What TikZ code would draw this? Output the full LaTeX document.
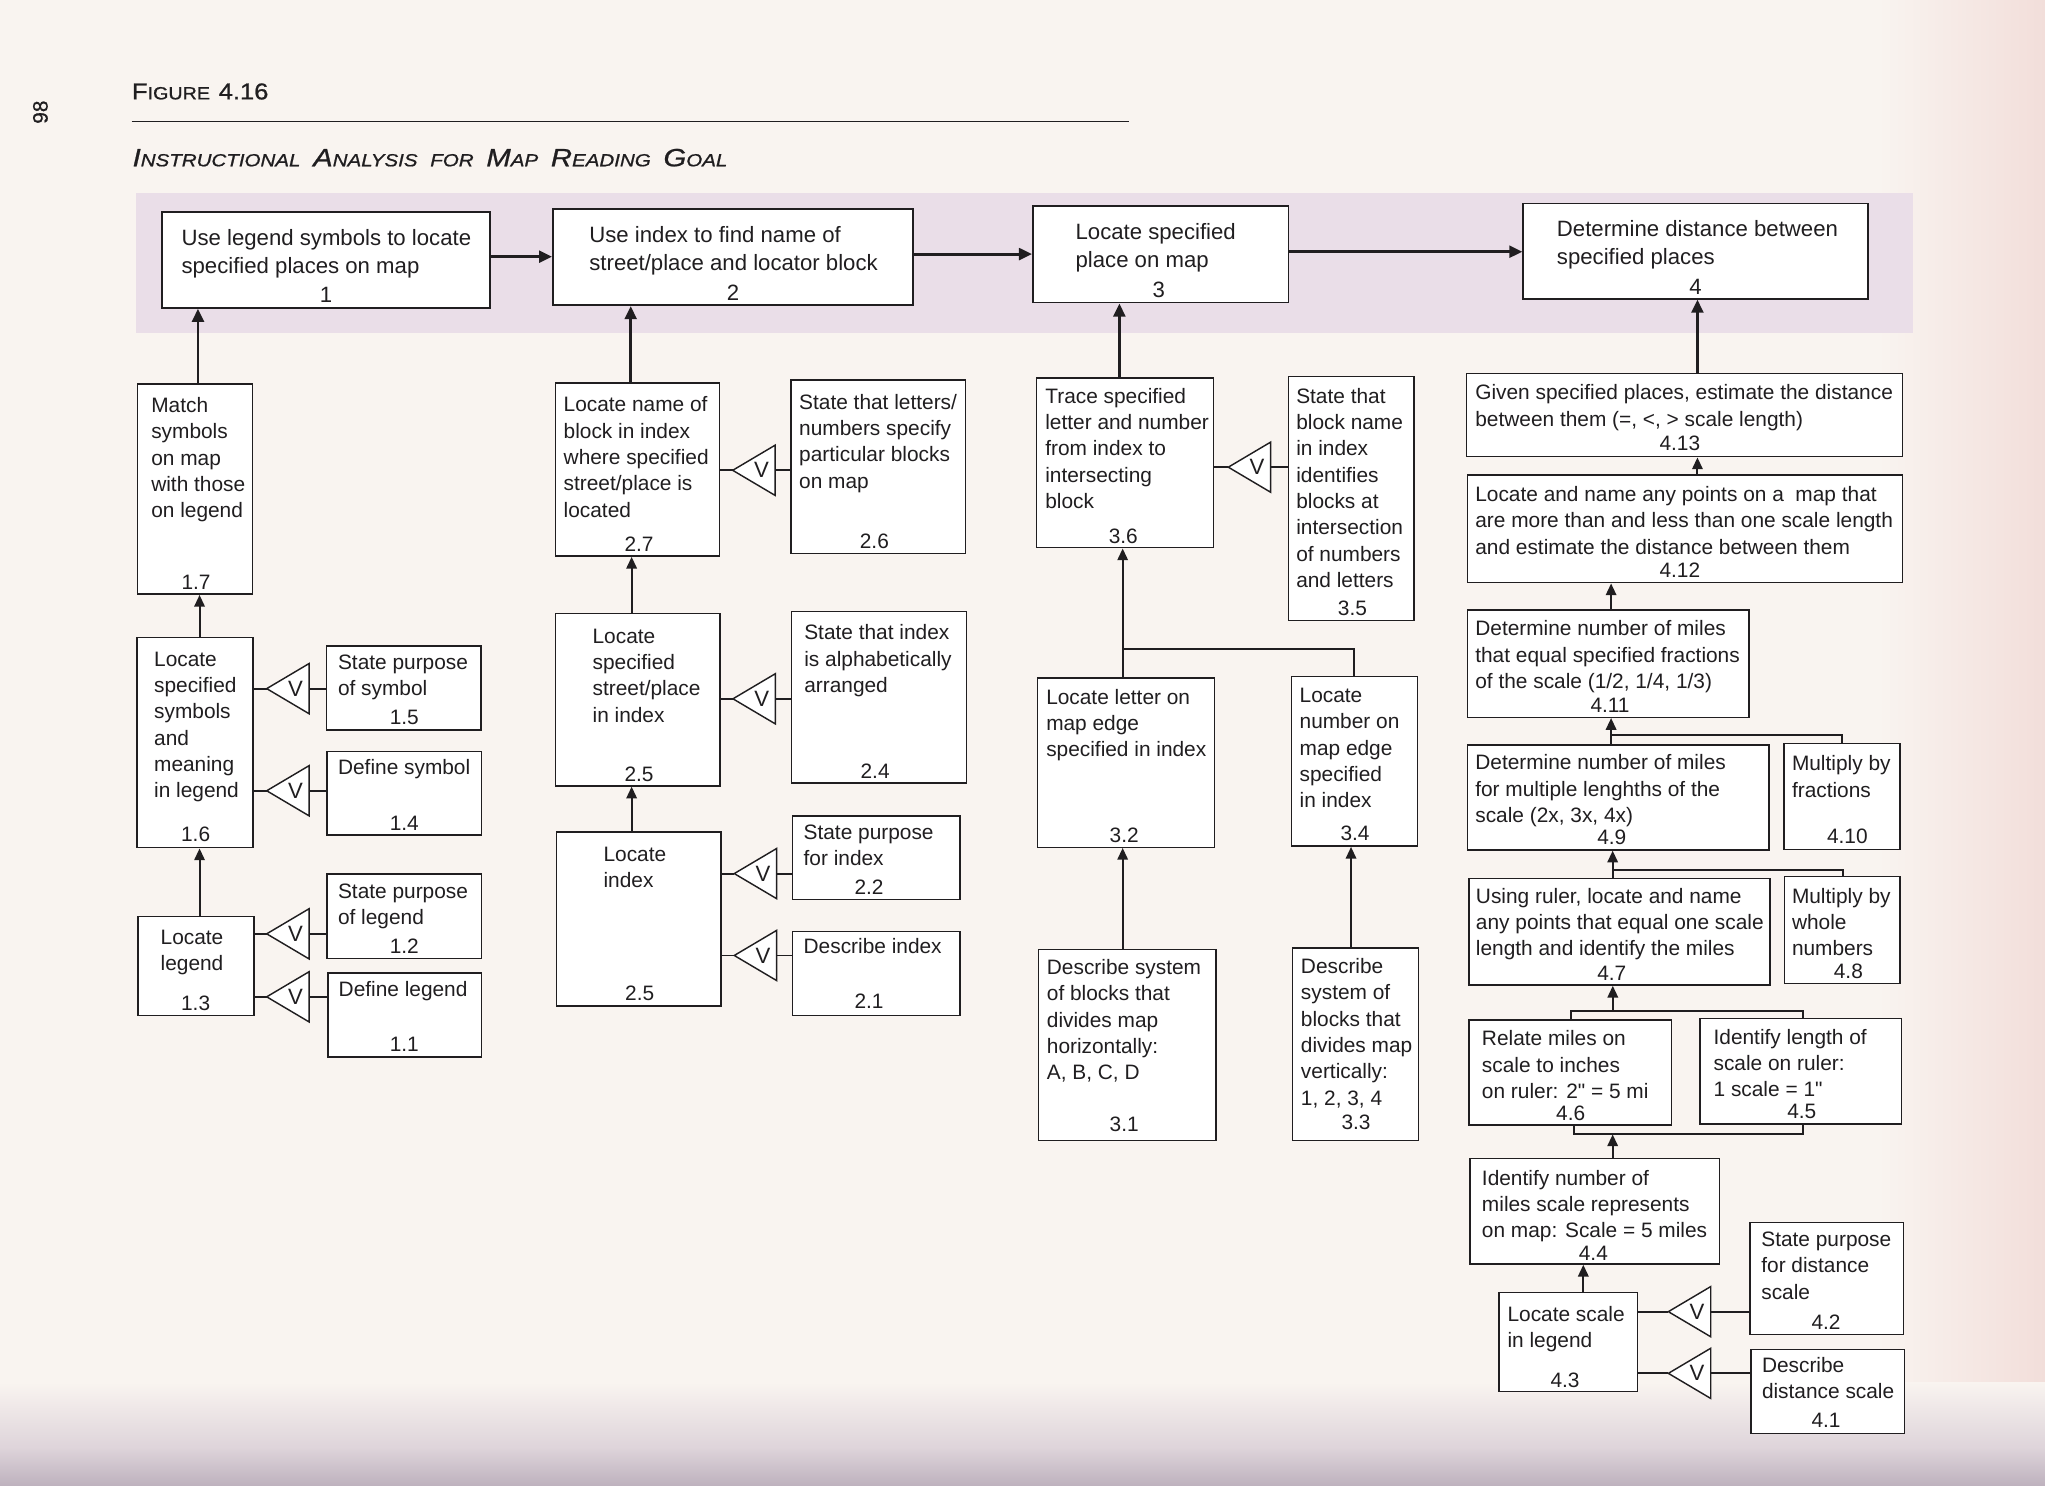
\documentclass[tikz,border=0pt]{standalone}
\usepackage{fontspec}
\usepackage{graphicx}
\newfontfamily\hv{Liberation Sans}
\newfontfamily\hd[FakeBold=0.8]{Liberation Sans}
\usetikzlibrary{arrows.meta,fit,calc}

\definecolor{paper}{RGB}{249,244,240}
\definecolor{paperpink}{RGB}{242,222,218}
\definecolor{papermid}{RGB}{222,212,218}
\definecolor{paperbot}{RGB}{190,178,190}
\definecolor{band}{RGB}{234,222,232}
\definecolor{ink}{RGB}{32,30,32}

\newcommand\bigc{\fontsize{17.6}{17.6}\selectfont}
\newcommand\smc{\fontsize{13.6}{13.6}\selectfont}
\newcommand\bigI{\fontsize{18.4}{18.4}\selectfont}
\newcommand\smI{\fontsize{12.9}{12.9}\selectfont}
\newcommand\gap{\hspace{8pt}}

\tikzset{
  box/.style={draw=ink, line width=1.1pt, fill=white, inner sep=0pt},
  topbox/.style={box, line width=1.4pt},
  txt/.style={font={\hv\fontsize{16}{20.2}\selectfont}, text=ink, inner sep=0pt, align=left, anchor=north west},
  toptxt/.style={txt, font={\hv\fontsize{17}{21.6}\selectfont}},
  num/.style={font={\hv\fontsize{16}{20}\selectfont}, text=ink, inner sep=0pt, anchor=base},
  topnum/.style={num, font={\hv\fontsize{17}{20}\selectfont}},
  link/.style={draw=ink, line width=1.5pt},
  arr/.style={link, -{Triangle[length=9pt,width=8pt]}},
  toparr/.style={draw=ink, line width=2.2pt, -{Triangle[length=10pt,width=9pt]}},
  vtri/.style={draw=ink, line width=1.1pt, fill=white},
  vlet/.style={font={\hv\fontsize{17}{17}\selectfont}, text=ink, inner sep=0pt},
}

% box: name, x1, y1, x2, y2
\newcommand\BX[6][box]{\node[#1, fit={(#3,#4) (#5,#6)}] (#2) {};}
% text: name, style, x, first baseline, text
\newcommand\TX[5]{\node[#2] (#1) at (#3,#4-15) {\rule{0pt}{15pt}#5};}
% number: name, style, x, baseline, text
\newcommand\NM[5]{\node[#2] (#1) at (#3,#4) {#5};}
% V link: id, from, to, apex x, y
\newcommand\VL[5]{%
  \coordinate (#1a) at (#4,#5);
  \coordinate (#1b) at (#4+32.5,#5);
  \draw[link] (#2.east |- #1a) -- (#1a);
  \draw[vtri] (#1a) -- ++(32.5,-19.25) -- ++(0,38.5) -- cycle;
  \node[vlet] (#1v) at (#4+22,#5) {V};
  \draw[link] (#1b) -- (#3.west |- #1b);
}

\begin{document}
\begin{tikzpicture}[x=1pt,y=-1pt]
\useasboundingbox (0,0) rectangle (1568,1138.7);
% paper
\fill[paper] (0,0) rectangle (1568,1138.7);
\shade[left color=paper, right color=paperpink] (1440,0) rectangle (1568,1138.7);
\shade[top color=paper, bottom color=papermid] (0,1060) rectangle (1568,1110);
\shade[top color=papermid, bottom color=paperbot] (0,1110) rectangle (1568,1138.7);

% headings
\node[rotate=90, inner sep=0pt, text=ink, font={\hd\fontsize{16}{16}\selectfont}] (pg) at (31,86) {98};
\node[anchor=base west, inner sep=0pt, text=ink, font=\hd] (fig) at (101,76.2)
  {\resizebox{104.6pt}{12.3pt}{{\bigc F}{\smc IGURE}\hspace{6pt}{\bigc 4.16}}};
\coordinate (rl) at (101,93.4);
\coordinate (rr) at (866,93.4);
\draw[ink, line width=1pt] (rl) -- (rr);
\node[anchor=base west, inner sep=0pt, text=ink, font={\hd\itshape}] (ttl) at (101.5,127.5)
  {\resizebox{456pt}{13.4pt}{{\bigI I}{\smI NSTRUCTIONAL}\gap{\bigI A}{\smI NALYSIS}\gap{\smI FOR}\gap{\bigI M}{\smI AP}\gap{\bigI R}{\smI EADING}\gap{\bigI G}{\smI OAL}}};

% band
\fill[band] (104,148) rectangle (1467,255);

% ---------- top boxes ----------
\BX[topbox]{b1}{124}{162.5}{376}{236}
\TX{b1t}{toptxt}{139}{188}{Use legend symbols to locate\\specified places on map}
\NM{b1n}{topnum}{250}{232.2}{1}
\BX[topbox]{b2}{424}{160}{700}{234}
\TX{b2t}{toptxt}{451.7}{185.7}{Use index to find name of\\street/place and locator block}
\NM{b2n}{topnum}{562}{230.4}{2}
\BX[topbox]{b3}{792}{158}{988}{232}
\TX{b3t}{toptxt}{824.5}{183.1}{Locate specified\\place on map}
\NM{b3n}{topnum}{888.4}{228.4}{3}
\BX[topbox]{b4}{1168}{156}{1432}{229}
\TX{b4t}{toptxt}{1193.6}{181.1}{Determine distance between\\specified places}
\NM{b4n}{topnum}{1300}{225.8}{4}

\draw[toparr] (b1.east |- 0,196.8) -- (b2.west |- 0,196.8);
\draw[toparr] (b2.east |- 0,194.8) -- (b3.west |- 0,194.8);
\draw[toparr] (b3.east |- 0,193) -- (b4.west |- 0,193);

% ---------- column 1 ----------
\BX{b17}{105.3}{294.3}{193.7}{455.6}
\TX{b17t}{txt}{115.8}{316}{Match\\symbols\\on map\\with those\\on legend}
\NM{b17n}{num}{150.3}{452.2}{1.7}
\BX{b16}{105}{489}{194}{650}
\TX{b16t}{txt}{118}{510.5}{Locate\\specified\\symbols\\and\\meaning\\in legend}
\NM{b16n}{num}{150}{645.5}{1.6}
\BX{b15}{250.5}{495.3}{368.8}{559.7}
\TX{b15t}{txt}{259}{513.1}{State purpose\\of symbol}
\NM{b15n}{num}{310}{555.5}{1.5}
\BX{b14}{250.8}{576.3}{369.3}{640.3}
\TX{b14t}{txt}{259}{593.5}{Define symbol}
\NM{b14n}{num}{310}{637.1}{1.4}
\BX{b13}{105.9}{702.7}{194.8}{778.7}
\TX{b13t}{txt}{123}{724}{Locate\\legend}
\NM{b13n}{num}{150}{774.5}{1.3}
\BX{b12}{250.8}{670}{369.3}{735}
\TX{b12t}{txt}{259}{688.5}{State purpose\\of legend}
\NM{b12n}{num}{310}{731}{1.2}
\BX{b11}{251.6}{746}{369.3}{810.5}
\TX{b11t}{txt}{259.5}{764}{Define legend}
\NM{b11n}{num}{310}{806.1}{1.1}

\draw[toparr] (b17.north -| 151.8,0) -- (b1.south -| 151.8,0);
\draw[arr] (b16.north -| 153,0) -- (b17.south -| 153,0);
\draw[arr] (b13.north -| 153,0) -- (b16.south -| 153,0);
\VL{v15}{b16}{b15}{204.5}{528}
\VL{v14}{b16}{b14}{204.5}{606.3}
\VL{v12}{b13}{b12}{204.5}{716}
\VL{v11}{b13}{b11}{204.5}{764.3}

% ---------- column 2 ----------
\BX{b27}{426}{293.7}{551.5}{426.4}
\TX{b27t}{txt}{432}{315.5}{Locate name of\\block in index\\where specified\\street/place is\\located}
\NM{b27n}{num}{490}{422.5}{2.7}
\BX{b26}{606.5}{291.2}{740.4}{424.5}
\TX{b26t}{txt}{612.6}{313.5}{State that letters/\\numbers specify\\particular blocks\\on map}
\NM{b26n}{num}{670.4}{420.9}{2.6}
\BX{b25}{426}{470.3}{552}{602.6}
\TX{b25t}{txt}{454.2}{492.9}{Locate\\specified\\street/place\\in index}
\NM{b25n}{num}{490}{599.3}{2.5}
\BX{b24}{607}{468.7}{741.2}{600.4}
\TX{b24t}{txt}{616.5}{490.5}{State that index\\is alphabetically\\arranged}
\NM{b24n}{num}{671}{597}{2.4}
\BX{b25l}{426.8}{638}{552.8}{771.4}
\TX{b25lt}{txt}{462.6}{660.1}{Locate\\index}
\NM{b25ln}{num}{490.5}{767.2}{2.5}
\BX{b22}{607.8}{625.5}{736}{689.8}
\TX{b22t}{txt}{616}{643.5}{State purpose\\for index}
\NM{b22n}{num}{666.3}{685.5}{2.2}
\BX{b21}{607.8}{714}{736}{778.5}
\TX{b21t}{txt}{616}{731.1}{Describe index}
\NM{b21n}{num}{666.3}{773.5}{2.1}

\draw[toparr] (b27.north -| 483.6,0) -- (b2.south -| 483.6,0);
\draw[arr] (b25.north -| 484.3,0) -- (b27.south -| 484.3,0);
\draw[arr] (b25l.north -| 484.3,0) -- (b25.south -| 484.3,0);
\VL{v26}{b27}{b26}{561.8}{360.6}
\VL{v24}{b25}{b24}{562}{535.8}
\VL{v22}{b25l}{b22}{563}{669.8}
\VL{v21}{b25l}{b21}{563}{732.6}

% ---------- column 3 ----------
\BX{b36}{794.9}{289.7}{930.3}{420}
\TX{b36t}{txt}{801.3}{308.9}{Trace specified\\letter and number\\from index to\\intersecting\\block}
\NM{b36n}{num}{861.3}{416.5}{3.6}
\BX{b35}{987.8}{288.5}{1084.2}{475.6}
\TX{b35t}{txt}{993.7}{308.9}{State that\\block name\\in index\\identifies\\blocks at\\intersection\\of numbers\\and letters}
\NM{b35n}{num}{1037}{472}{3.5}
\BX{b32}{795.4}{519.8}{931}{649.6}
\TX{b32t}{txt}{802}{539.7}{Locate letter on\\map edge\\specified in index}
\NM{b32n}{num}{862}{646}{3.2}
\BX{b34}{990.4}{518.6}{1086.7}{648.8}
\TX{b34t}{txt}{996.3}{538.5}{Locate\\number on\\map edge\\specified\\in index}
\NM{b34n}{num}{1039}{644.5}{3.4}
\BX{b31}{796.1}{727.9}{932.4}{874.6}
\TX{b31t}{txt}{802.5}{747}{Describe system\\of blocks that\\divides map\\horizontally:\\A, B, C, D}
\NM{b31n}{num}{862}{867.2}{3.1}
\BX{b33}{991.2}{726.7}{1087.5}{874.6}
\TX{b33t}{txt}{997.3}{746.3}{Describe\\system of\\blocks that\\divides map\\vertically:\\1, 2, 3, 4}
\NM{b33n}{num}{1039.7}{866.4}{3.3}

\draw[toparr] (b36.north -| 858.3,0) -- (b3.south -| 858.3,0);
\coordinate (j3) at (860.8,497.9);
\coordinate (j3r) at (1038.2,497.9);
\draw[arr] (b32.north -| j3) -- (b36.south -| j3);
\draw[link] (j3) -- (j3r) -- (b34.north -| j3r);
\draw[arr] (b31.north -| 860.8,0) -- (b32.south -| 860.8,0);
\draw[arr] (b33.north -| 1035.9,0) -- (b34.south -| 1035.9,0);
\VL{v35}{b36}{b35}{941.8}{358.2}

% ---------- column 4 ----------
\BX{b413}{1124.6}{286.3}{1458.6}{350.2}
\TX{b413t}{txt}{1131}{306.3}{Given specified places, estimate the distance\\between them (=, <, > scale length)}
\NM{b413n}{num}{1288}{345.5}{4.13}
\BX{b412}{1125}{364.2}{1458.6}{446.8}
\TX{b412t}{txt}{1131}{384.3}{Locate and name any points on a~ map that\\are more than and less than one scale length\\and estimate the distance between them}
\NM{b412n}{num}{1288}{443.1}{4.12}
\BX{b411}{1125}{467.7}{1341}{550}
\TX{b411t}{txt}{1131}{487.3}{Determine number of miles\\that equal specified fractions\\of the scale (1/2, 1/4, 1/3)}
\NM{b411n}{num}{1234.5}{546.1}{4.11}
\BX{b49}{1125}{571.2}{1356.4}{651.7}
\TX{b49t}{txt}{1131}{590}{Determine number of miles\\for multiple lenghths of the\\scale (2x, 3x, 4x)}
\NM{b49n}{num}{1235.8}{647.8}{4.9}
\BX{b410}{1367.9}{570}{1456.8}{651.2}
\TX{b410t}{txt}{1373.8}{590.8}{Multiply by\\fractions}
\NM{b410n}{num}{1416.4}{646.5}{4.10}
\BX{b47}{1126.4}{673.5}{1357.2}{755.3}
\TX{b47t}{txt}{1131.5}{692.3}{Using ruler, locate and name\\any points that equal one scale\\length and identify the miles}
\NM{b47n}{num}{1235.8}{751.8}{4.7}
\BX{b48}{1368.1}{672.2}{1456.8}{754}
\TX{b48t}{txt}{1373.8}{692.3}{Multiply by\\whole\\numbers}
\NM{b48n}{num}{1417.2}{750.5}{4.8}
\BX{b46}{1126.4}{782.1}{1281.8}{862.6}
\TX{b46t}{txt}{1136.1}{801.7}{Relate miles on\\scale to inches\\on ruler: 2" = 5 mi}
\NM{b46n}{num}{1204.3}{859.2}{4.6}
\BX{b45}{1303.5}{780.8}{1458.1}{861.8}
\TX{b45t}{txt}{1313.7}{800.4}{Identify length of\\scale on ruler:\\1 scale = 1"}
\NM{b45n}{num}{1381.5}{857.9}{4.5}
\BX{b44}{1127.1}{888.2}{1318.3}{969.2}
\TX{b44t}{txt}{1136.1}{908.5}{Identify number of\\miles scale represents\\on map: Scale = 5 miles}
\NM{b44n}{num}{1221.7}{966.3}{4.4}
\BX{b43}{1149.4}{991.2}{1255.7}{1067.1}
\TX{b43t}{txt}{1155.7}{1013}{Locate scale\\in legend}
\NM{b43n}{num}{1200}{1063.5}{4.3}
\BX{b42}{1341.8}{937.5}{1459.4}{1023.1}
\TX{b42t}{txt}{1350.3}{955.5}{State purpose\\for distance\\scale}
\NM{b42n}{num}{1400.1}{1019.6}{4.2}
\BX{b41}{1342.6}{1034.6}{1460.2}{1099}
\TX{b41t}{txt}{1350.8}{1052.1}{Describe\\distance scale}
\NM{b41n}{num}{1400.1}{1094.2}{4.1}

\draw[toparr] (b413.north -| 1301.5,0) -- (b4.south -| 1301.5,0);
\draw[arr] (b412.north -| 1301.5,0) -- (b413.south -| 1301.5,0);
\draw[arr] (b411.north -| 1235.3,0) -- (b412.south -| 1235.3,0);
\coordinate (j411) at (1235.3,563.6);
\coordinate (j411r) at (1412.6,563.6);
\draw[arr] (b49.north -| j411) -- (b411.south -| j411);
\draw[link] (j411) -- (j411r) -- (b410.north -| j411r);
\coordinate (j49) at (1236.5,667.1);
\coordinate (j49r) at (1412.9,667.1);
\draw[arr] (b47.north -| j49) -- (b49.south -| j49);
\draw[link] (j49) -- (j49r) -- (b48.north -| j49r);
\coordinate (j47) at (1236.6,775.2);
\coordinate (j47l) at (1204.3,775.2);
\coordinate (j47r) at (1382.2,775.2);
\draw[link] (b46.north -| j47l) -- (j47l) -- (j47r) -- (b45.north -| j47r);
\draw[arr] (j47) -- (b47.south -| j47);
\coordinate (j44) at (1236.5,869.8);
\coordinate (j44l) at (1206.7,869.8);
\coordinate (j44r) at (1382.2,869.8);
\draw[link] (b46.south -| j44l) -- (j44l) -- (j44r) -- (b45.south -| j44r);
\draw[arr] (b44.north -| j44) -- (j44);
\draw[arr] (b43.north -| 1214,0) -- (b44.south -| 1214,0);
\VL{v42}{b43}{b42}{1279.2}{1005.7}
\VL{v41}{b43}{b41}{1279.2}{1053}
\end{tikzpicture}
\end{document}
